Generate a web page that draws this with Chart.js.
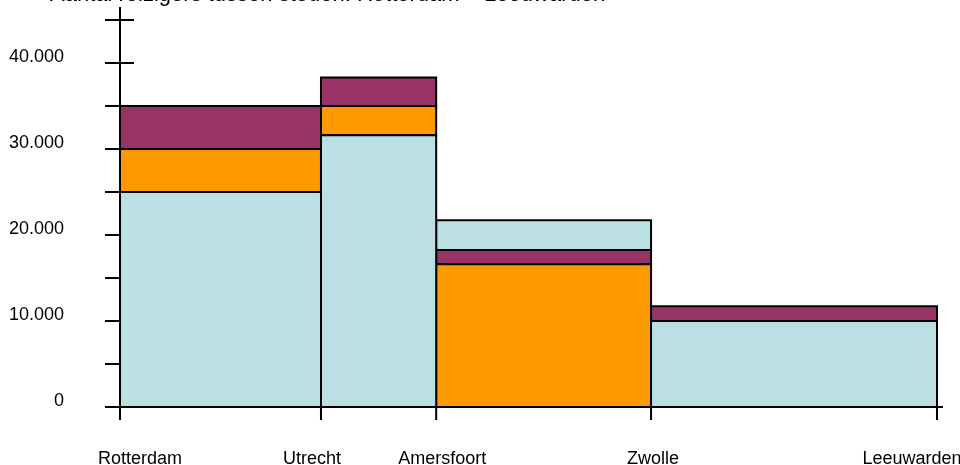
<!DOCTYPE html>
<html>
<head>
    <title>Reizigers per traject</title>
    <script src="https://cdn.jsdelivr.net/npm/chart.js"></script>
    <style>
        body {
            margin: 0;
            padding: 0;
            background: #fff;
            font-family: "Liberation Sans", Arial, sans-serif;
        }
        #wrap {
            position: relative;
            width: 960px;
            height: 465px;
            overflow: hidden;
        }
        #title {
            position: absolute;
            left: 50px;
            top: -17px;
            font-size: 22px;
            line-height: 22px;
            white-space: nowrap;
            color: #000;
        }
        canvas {
            position: absolute;
            left: 0;
            top: 0;
        }
    </style>
</head>
<body>

<div id="wrap">
  <canvas id="myChart" width="960" height="465"></canvas>
  <div id="title">Aantal reizigers tussen steden: Rotterdam – Leeuwarden</div>
</div>

<script>
// cities along the x axis and their position (distance units)
const cities = ['Rotterdam', 'Utrecht', 'Amersfoort', 'Zwolle', 'Leeuwarden'];
const cityPos = [0, 49.2, 77.4, 130, 200];

// floating ranges [low, high] per leg (Rotterdam-Utrecht, Utrecht-Amersfoort, Amersfoort-Zwolle, Zwolle-Leeuwarden)
const blueRanges = [[0, 25000], [0, 31600], [18250, 21700], [0, 10000]];
const orangeRanges = [[25000, 30000], [31600, 35000], [0, 16600], null];
const purpleRanges = [[30000, 35000], [35000, 38300], [16600, 18250], [10000, 11700]];

// y axis: tick marks every 5.000, labels every 10.000
const yMax = 46500;
const yTickValues = [0, 5000, 10000, 15000, 20000, 25000, 30000, 35000, 40000, 45000];
const yLabelEvery = 10000;

// small nudges of the x labels, as in the original
const labelShift = [20, -9, 6, 2, -25];

function fmt(v) {
    return String(v).replace(/\B(?=(\d{3})+(?!\d))/g, '.');
}

function rects(ranges, color) {
    const out = [];
    ranges.forEach((r, i) => {
        if (!r) return;
        const x0 = cityPos[i], x1 = cityPos[i + 1];
        out.push({
            data: [
                { x: x0, y: r[0] }, { x: x0, y: r[1] },
                { x: x1, y: r[1] }, { x: x1, y: r[0] },
                { x: x0, y: r[0] }
            ],
            showLine: true,
            fill: 'shape',
            backgroundColor: color,
            borderColor: '#000',
            borderWidth: 2,
            pointRadius: 0,
            tension: 0,
            clip: false
        });
    });
    return out;
}

const datasets = [
    ...rects(blueRanges, '#BBE0E3'),
    ...rects(orangeRanges, '#FF9900'),
    ...rects(purpleRanges, '#993366')
];

// axis lines, crossing tick marks and city labels
const axisPlugin = {
    id: 'axisPlugin',
    beforeDatasetsDraw(chart) {
        const ctx = chart.ctx;
        const x = chart.scales.x, y = chart.scales.y;
        const xl = x.getPixelForValue(cityPos[0]);
        const yz = y.getPixelForValue(0);
        ctx.save();
        ctx.strokeStyle = '#000';
        ctx.lineWidth = 2;
        ctx.beginPath();
        ctx.moveTo(xl, y.top);
        ctx.lineTo(xl, yz + 13);
        y.ticks.forEach(t => {
            const p = y.getPixelForValue(t.value);
            ctx.moveTo(xl - 15, p);
            ctx.lineTo(xl + 14, p);
        });
        ctx.moveTo(xl - 15, yz);
        ctx.lineTo(x.right + 6, yz);
        cityPos.forEach(v => {
            const p = x.getPixelForValue(v);
            ctx.moveTo(p, yz);
            ctx.lineTo(p, yz + 13);
        });
        ctx.stroke();
        ctx.restore();
    },
    afterDraw(chart) {
        const ctx = chart.ctx;
        const x = chart.scales.x;
        ctx.save();
        ctx.fillStyle = '#000';
        ctx.font = '18px "Liberation Sans", Arial, sans-serif';
        ctx.textAlign = 'center';
        ctx.textBaseline = 'alphabetic';
        cities.forEach((c, i) => {
            ctx.fillText(c, x.getPixelForValue(cityPos[i]) + labelShift[i], 464);
        });
        ctx.restore();
    }
};

new Chart(document.getElementById('myChart').getContext('2d'), {
    type: 'scatter',
    data: { datasets },
    plugins: [axisPlugin],
    options: {
        responsive: false,
        animation: false,
        layout: { padding: { left: 0, right: 23, top: 7, bottom: 58 } },
        plugins: {
            legend: { display: false },
            tooltip: { enabled: false }
        },
        scales: {
            x: {
                type: 'linear',
                display: false,
                min: cityPos[0],
                max: cityPos[cityPos.length - 1]
            },
            y: {
                type: 'linear',
                min: 0,
                max: yMax,
                grid: { display: false, drawTicks: false },
                border: { display: false },
                afterBuildTicks(scale) {
                    scale.ticks = yTickValues.map(v => ({ value: v }));
                },
                ticks: {
                    autoSkip: false,
                    padding: 56,
                    labelOffset: -6,
                    color: '#000',
                    font: { family: '"Liberation Sans", Arial, sans-serif', size: 18 },
                    callback: v => (v % yLabelEvery === 0 ? fmt(v) : '')
                },
                afterFit(scale) {
                    scale.width = 120;
                    scale.paddingTop = 0;
                    scale.paddingBottom = 0;
                }
            }
        }
    }
});
</script>

</body>
</html>
